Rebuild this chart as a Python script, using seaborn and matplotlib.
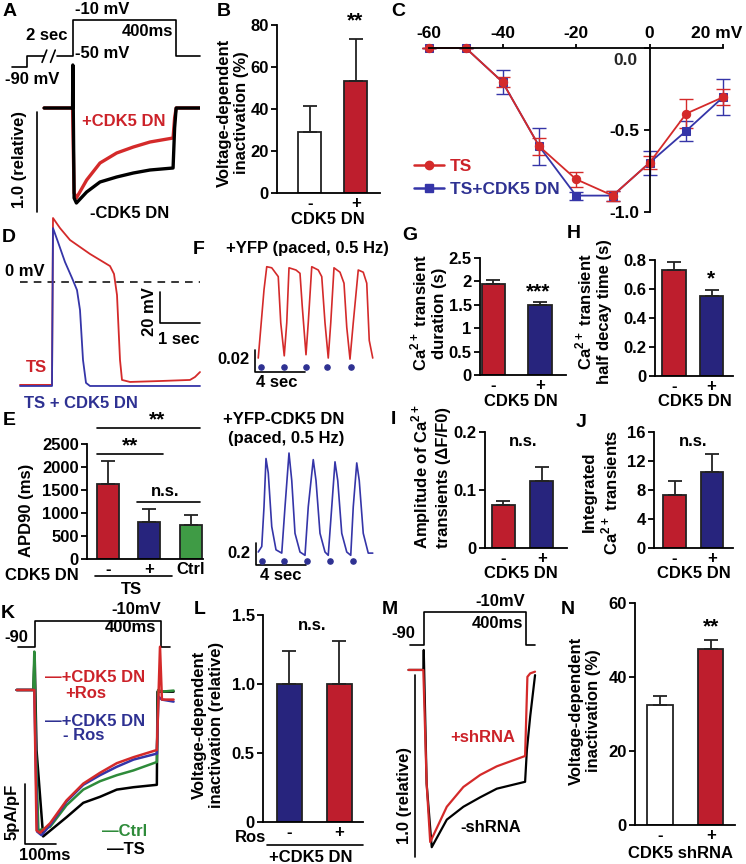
import numpy as np
import pandas as pd
import matplotlib
matplotlib.use("Agg")
import matplotlib.pyplot as plt
from matplotlib.lines import Line2D
import seaborn as sns

# ==================== data ====================
# A: protocol (ms, mV) and normalised Ca current
a_prot1_t = [-2150, -2000, -2000, -1880]
a_prot1_v = [-90, -90, -50, -50]
a_prot2_t = [-60, 0, 0, 400, 400, 500]
a_prot2_v = [-50, -50, -10, -10, -50, -50]
a_dn_t = [-113, -2, 4, 13, 53, 105, 170, 235, 300, 390, 396, 402, 495]
a_dn_v = [0, 0, -0.85, -0.90, -0.72, -0.55, -0.45, -0.39, -0.34, -0.30, -0.10, 0.0, 0.0]
a_ctl_t = [-113, -2, -1, 0, 4, 13, 53, 105, 170, 235, 300, 390, 396, 402, 495]
a_ctl_v = [0, 0, 0.43, 0.2, -0.9, -0.95, -0.84, -0.74, -0.69, -0.65, -0.62, -0.60, -0.2, 0.0, 0.0]

# B
b_cats = ["-", "+"]
b_mean = [29, 53.5]
b_err = [12.5, 20]

# C: I-V relation
c_mv = [-60, -50, -40, -30, -20, -10, 0, 10, 20]
c_ts = [0, 0, -0.207, -0.60, -0.80, -0.90, -0.70, -0.40, -0.30]
c_ts_err = [0, 0, 0.03, 0.05, 0.045, 0.03, 0.04, 0.09, 0.05]
c_dn = [0, 0, -0.207, -0.60, -0.90, -0.90, -0.70, -0.505, -0.30]
c_dn_err = [0, 0, 0.075, 0.115, 0.025, 0.03, 0.075, 0.06, 0.11]

# D: action potentials (ms, mV)
d_ts_t = [0, 800, 825, 1000, 1250, 1750, 2250, 2350, 2425, 2500, 2550, 2750, 3500, 4250, 4375, 4500]
d_ts_v = [-66.4, -66.4, 41.3, 34.8, 27.1, 18.1, 10.3, 5.2, -8.4, -50.3, -63.2, -64.5, -63.9, -63.2, -61.3, -58.1]
d_dn_t = [0, 800, 825, 950, 1125, 1300, 1425, 1500, 1575, 1650, 1750, 4500]
d_dn_v = [-67.1, -67.1, 34.8, 25.8, 12.9, 2.6, -5.2, -18.1, -50.3, -65.1, -67.1, -67.1]

# E: APD90
e_cats = ["-", "+", "Ctrl"]
e_mean = [1630, 800, 740]
e_err = [510, 290, 220]

# F: Ca transients (s, dF/F)
f_yfp_t = [0.26, 0.72, 0.94, 1.34, 1.86, 2.06, 2.34, 2.54, 2.72, 3.28, 3.6, 3.78, 4.08, 4.26, 4.54,
           5.06, 5.34, 5.6, 5.86, 6.06, 6.32, 6.8, 7.12, 7.34, 7.6, 7.86, 8.26, 8.66, 8.94, 9.14, 9.42]
f_yfp_v = [0.0, 0.062, 0.083, 0.082, 0.074, 0.032, 0.002, 0.032, 0.082, 0.080, 0.077, 0.047, 0.003, 0.032, 0.083,
           0.080, 0.074, 0.032, 0.0, 0.032, 0.082, 0.078, 0.068, 0.028, -0.001, 0.032, 0.080, 0.078, 0.068, 0.016, 0.0]
f_yfp_pace = [0.48, 2.32, 4.08, 5.76, 7.68]
f_dn_t = [0.26, 0.54, 0.72, 0.88, 1.06, 1.34, 1.68, 2.14, 2.4, 2.72, 2.94, 3.2, 3.6, 4.0, 4.26, 4.66,
          4.88, 5.2, 5.6, 5.86, 6.14, 6.4, 6.62, 6.94, 7.34, 7.66, 7.86, 8.14, 8.34, 8.66, 9.06, 9.42]
f_dn_v = [0.0, 0.05, 0.41, 0.85, 0.72, 0.23, 0.02, -0.01, 0.41, 0.90, 0.65, 0.17, 0.0, -0.03, 0.41, 0.84,
          0.65, 0.17, 0.0, -0.03, 0.41, 0.82, 0.65, 0.17, 0.0, -0.03, 0.41, 0.81, 0.65, 0.17, -0.01, -0.01]
f_dn_pace = [0.56, 2.32, 4.16, 6.0, 7.84]

# G-J
g_cats = ["-", "+"]
g_mean = [1.95, 1.5]
g_err = [0.07, 0.06]
h_mean = [0.73, 0.55]
h_err = [0.055, 0.04]
i_mean = [0.075, 0.115]
i_err = [0.006, 0.024]
j_mean = [7.3, 10.5]
j_err = [1.9, 2.5]

# K: currents (ms, pA/pF)
k_prot_t = [-55, 0, 0, 400, 400, 428]
k_prot_v = [-90, -90, -10, -10, -90, -90]
k_ros_t = [-58, -2, 5, 16, 48, 100, 153, 206, 259, 312, 386, 396, 402, 439]
k_ros_v = [0, 0, -11.7, -11.9, -11.1, -9.2, -7.8, -6.9, -6.1, -5.6, -5.0, 3.6, -0.8, -0.8]
k_noros_t = [-58, -2, 7, 21, 48, 100, 153, 206, 259, 312, 386, 391, 402, 439]
k_noros_v = [0, 0, -11.8, -12.1, -11.25, -9.3, -7.9, -7.1, -6.4, -5.8, -5.3, -0.55, -0.8, -0.97]
k_ctrl_t = [-58, -5, -2, 3, 11, 48, 100, 153, 206, 259, 312, 386, 390, 402, 439]
k_ctrl_v = [0, 0, 3.2, -5, -11.7, -11.4, -9.6, -8.3, -7.6, -7.1, -6.7, -6.0, 0, -0.14, -0.05]
k_ts_t = [-58, -5, -1, 5, 26, 100, 153, 206, 259, 312, 386, 388, 439]
k_ts_v = [0, 0, 3.05, -5, -12.2, -10.6, -9.4, -8.9, -8.3, -8.1, -7.9, -0.14, -0.14]

# L
l_cats = ["-", "+"]
l_mean = [1.0, 1.0]
l_err = [0.24, 0.31]

# M: normalised currents (ms, relative)
m_prot_t = [-55, 0, 0, 400, 400, 435]
m_prot_v = [-90, -90, -10, -10, -90, -90]
m_sh_t = [-61, -3, 10, 24, 89, 154, 220, 285, 396, 405, 416, 435]
m_sh_v = [0, 0, -0.66, -1.0, -0.795, -0.68, -0.61, -0.56, -0.50, -0.04, -0.02, -0.01]
m_ctl_t = [-61, -3, -1.3, 10, 30, 89, 154, 220, 285, 396, 403, 416, 435]
m_ctl_v = [0, 0, 0.116, -0.66, -1.03, -0.87, -0.795, -0.74, -0.69, -0.65, -0.465, -0.27, -0.03]

# N
n_cats = ["-", "+"]
n_mean = [32.5, 47.5]
n_err = [2.3, 2.5]

# ==================== style ====================
RED = "#BE1E2D"
NAVY = "#27247D"
GREEN = "#3F9B45"
EDGE = "#222222"
LRED = "#D42A2A"
LBLUE = "#3535A8"
TRED = "#CC2229"
TBLUE = "#2E3192"

sns.set_theme(style="ticks")
plt.rcParams["font.family"] = ["Liberation Sans", "DejaVu Sans"]
plt.rcParams["font.weight"] = "bold"
plt.rcParams["axes.unicode_minus"] = False
plt.rcParams["mathtext.fontset"] = "custom"
plt.rcParams["mathtext.rm"] = "Liberation Sans:bold"
plt.rcParams["mathtext.bf"] = "Liberation Sans:bold"

W, H = 746, 864
fig = plt.figure(figsize=(W / 100, H / 100), dpi=100)
fig.patch.set_facecolor("white")
FS = 12


def add_ax(x0, y0, x1, y1):
    ax = fig.add_axes([x0 / W, 1 - y1 / H, (x1 - x0) / W, (y1 - y0) / H])
    ax.set_facecolor("none")
    return ax


def txt(x, y, s, size=FS, color="black", rot=0, ha="center", va="center"):
    fig.text(x / W, 1 - y / H, s, fontsize=size, color=color, rotation=rot,
             ha=ha, va=va, fontweight="bold")


def trace(ax, t, v, color, lw=1.3, **kw):
    sns.lineplot(x=t, y=v, sort=False, estimator=None, color=color, lw=lw, ax=ax, **kw)


def bar_panel(box, cats, means, errs, colors, xlim, ylim, yticks, ylabels, width):
    ax = add_ax(*box)
    df = pd.DataFrame({"group": cats, "value": means})
    sns.barplot(data=df, x="group", y="value", hue="group", order=cats, hue_order=cats,
                palette=colors, width=width, saturation=1, edgecolor=EDGE, linewidth=1.3,
                errorbar=None, legend=False, ax=ax)
    ax.errorbar(np.arange(len(cats)), means, yerr=[np.zeros(len(cats)), errs], fmt="none",
                ecolor=EDGE, elinewidth=1.3, capsize=5, capthick=1.3)
    ax.set_xlim(*xlim)
    ax.set_ylim(*ylim)
    ax.set_yticks(yticks)
    ax.set_yticklabels(ylabels)
    ax.set_xlabel("")
    ax.set_ylabel("")
    sns.despine(ax=ax)
    for s in ("left", "bottom"):
        ax.spines[s].set_linewidth(1.3)
        ax.spines[s].set_color("black")
    ax.tick_params(axis="y", length=4, width=1.3, pad=2, labelsize=FS, colors="black")
    ax.tick_params(axis="x", length=0, pad=2, labelsize=FS, colors="black")
    return ax


def bracket(ax, x0, x1, y):
    ax.plot([x0, x1], [y, y], color="black", lw=1.2, clip_on=False)


def piecewise(src, dst):
    return (lambda v: np.interp(v, src, dst), lambda p: np.interp(p, dst, src))


# ==================== A ====================
ax = add_ax(12, 20, 200, 67)
ax.set_xscale("function", functions=piecewise([-2150, -2000, -1880, -60, 0, 400, 500],
                                              [12, 27, 44, 57, 73, 176, 200]))
ax.set_yscale("function", functions=piecewise([-90, -50, -10], [-67, -56, -20]))
trace(ax, a_prot1_t, a_prot1_v, "black", lw=1.2, clip_on=False)
trace(ax, a_prot2_t, a_prot2_v, "black", lw=1.2, clip_on=False)
ax.set_xlim(-2150, 500)
ax.set_ylim(-90, -10)
for xs in ((0.16, 0.185), (0.205, 0.23)):
    ax.plot(xs, (0.1, 0.36), color="black", lw=1.2, transform=ax.transAxes, clip_on=False)
ax.axis("off")

ax = add_ax(30, 60, 200, 215)
trace(ax, a_dn_t, a_dn_v, LRED, lw=2.4)
trace(ax, a_ctl_t, a_ctl_v, "black", lw=2.4)
ax.plot([-140, -140], [-0.04, -1.04], color="black", lw=1.2)
ax.set_xlim(-168, 495)
ax.set_ylim(-1.07, 0.48)
ax.axis("off")

txt(10, 12, "A", size=14)
txt(102, 9, "-10 mV")
txt(47, 36, "2 sec")
txt(147, 31, "400ms")
txt(102, 53, "-50 mV")
txt(32, 80, "-90 mV")
txt(124, 121, "+CDK5 DN", color=TRED)
txt(130, 214, "-CDK5 DN")
txt(20, 160, "1.0 (relative)", rot=90)

# ==================== B ====================
ax = bar_panel((277, 25, 380, 193), b_cats, b_mean, b_err, ["white", RED],
               (-0.71, 1.53), (0, 80), [0, 20, 40, 60, 80], ["0", "20", "40", "60", "80"], 0.5)
txt(224, 11, "B", size=14)
txt(355, 21, "**", size=15)
txt(233, 113, "Voltage-dependent\ninactivation (%)", rot=90)
txt(328, 220, "CDK5 DN")

# ==================== C ====================
ax = add_ax(429, 48, 723, 212)
ax.errorbar(c_mv, c_dn, yerr=c_dn_err, fmt="none", ecolor=LBLUE, elinewidth=1, capsize=5, clip_on=False)
ax.errorbar(c_mv, c_ts, yerr=c_ts_err, fmt="none", ecolor=LRED, elinewidth=1, capsize=5, clip_on=False)
trace(ax, c_mv, c_dn, LBLUE, lw=1.3, marker="s", markersize=6, markeredgecolor=LBLUE, clip_on=False)
trace(ax, c_mv, c_ts, LRED, lw=1.3, marker="o", markersize=6, markeredgecolor=LRED, clip_on=False)
ax.set_xlim(-60, 20)
ax.set_ylim(-1, 0)
ax.spines["left"].set_position(("data", 0))
ax.spines["bottom"].set_visible(False)
ax.spines["right"].set_visible(False)
for s in ("left", "top"):
    ax.spines[s].set_linewidth(1.3)
    ax.spines[s].set_color("black")
ax.xaxis.tick_top()
ax.set_xticks([-60, -40, -20, 0, 20])
ax.set_xticklabels(["-60", "-40", "-20", "0", ""])
ax.set_yticks([0, -0.5, -1.0])
ax.set_yticklabels(["", "-0.5", "-1.0"])
ax.tick_params(axis="x", length=3, width=1.3, pad=2, labelsize=12.5, colors="black")
ax.tick_params(axis="y", length=4, width=1.3, pad=3, labelsize=12.5, colors="black")
ax.text(-3.2, -0.075, "0.0", ha="right", va="center", fontsize=12.5, fontweight="bold")
handles = [Line2D([], [], color=LRED, marker="o", markersize=6, lw=1.8),
           Line2D([], [], color=LBLUE, marker="s", markersize=6, lw=1.8)]
leg = ax.legend(handles, ["TS", "TS+CDK5 DN"], loc="center left", bbox_to_anchor=(414 / W, 1 - 178 / H),
                bbox_transform=fig.transFigure, frameon=False, fontsize=12.5, handlelength=1.7,
                handletextpad=0.35, labelspacing=0.5, borderpad=0, borderaxespad=0)
for t, c in zip(leg.get_texts(), [TRED, TBLUE]):
    t.set_color(c)
txt(398, 11, "C", size=14)
txt(717, 33, "20 mV", size=12.5)

# ==================== D ====================
ax = add_ax(15, 205, 205, 410)
ax.plot([0, 4500], [0, 0], color="black", lw=1.1, ls=(0, (5, 4)))
trace(ax, d_ts_t, d_ts_v, LRED, lw=1.3)
trace(ax, d_dn_t, d_dn_v, LBLUE, lw=1.3)
ax.plot([3500, 3500, 4500], [-6.5, -26.5, -26.5], color="black", lw=1.2)
ax.set_xlim(-125, 4625)
ax.set_ylim(-82.6, 49.7)
ax.axis("off")
txt(9, 237, "D", size=14)
txt(25, 272, "0 mV")
txt(149, 312, "20 mV", rot=90)
txt(179, 339, "1 sec")
txt(36, 368, "TS", color=TRED)
txt(81, 404, "TS + CDK5 DN", color=TBLUE)

# ==================== E ====================
ax = bar_panel((87, 444, 203, 559), e_cats, e_mean, e_err, [RED, NAVY, GREEN],
               (-0.5, 2.3), (0, 2500), [0, 500, 1000, 1500, 2000, 2500],
               ["0", "500", "1000", "1500", "2000", "2500"], 0.53)
bracket(ax, -0.26, 2.22, 2848)
bracket(ax, -0.26, 1.33, 2283)
bracket(ax, 0.70, 2.22, 1239)
bracket(ax, -0.31, 1.55, -370)
txt(9, 420, "E", size=14)
txt(157, 420, "**", size=15)
txt(130, 446, "**", size=15)
txt(165, 492, "n.s.")
txt(27, 510, "APD90 (ms)", rot=90)
txt(42, 575, "CDK5 DN")
txt(131, 589, "TS")

# ==================== F ====================
ax = add_ax(250, 260, 380, 395)
trace(ax, f_yfp_t, f_yfp_v, LRED, lw=1.2)
ax.scatter(f_yfp_pace, [-0.008] * len(f_yfp_pace), s=14, color=TBLUE, zorder=3)
ax.plot([0, 0, 4], [0.0073, -0.0127, -0.0127], color="black", lw=1.2)
ax.set_xlim(-0.4, 10)
ax.set_ylim(-0.0336, 0.0891)
ax.axis("off")

ax = add_ax(250, 445, 380, 585)
trace(ax, f_dn_t, f_dn_v, LBLUE, lw=1.2)
ax.scatter(f_dn_pace, [-0.08] * len(f_dn_pace), s=14, color=TBLUE, zorder=3)
ax.plot([0.08, 0.08, 4.08], [0.08, -0.12, -0.12], color="black", lw=1.2)
ax.set_xlim(-0.4, 10)
ax.set_ylim(-0.30, 0.973)
ax.axis("off")

txt(199, 250, "F", size=14)
txt(307, 249, "+YFP (paced, 0.5 Hz)")
txt(250, 359, "0.02", ha="right")
txt(277, 383, "4 sec")
txt(284, 419, "+YFP-CDK5 DN")
txt(286, 439, "(paced, 0.5 Hz)")
txt(250, 554, "0.2", ha="right")
txt(281, 576, "4 sec")

# ==================== G / H ====================
ax = bar_panel((480, 258, 566, 375), g_cats, g_mean, g_err, [RED, NAVY],
               (-0.285, 1.56), (0, 2.5), [0, 0.5, 1, 1.5, 2, 2.5], ["0", "0.5", "1", "1.5", "2", "2.5"], 0.5)
txt(410, 236, "G", size=14)
txt(538, 292, "***", size=15)
txt(428, 313, "Ca$^{\\mathbf{2+}}$ transient\nduration (s)", rot=90)
txt(521, 401, "CDK5 DN")

ax = bar_panel((655, 260, 733, 376), g_cats, h_mean, h_err, [RED, NAVY],
               (-0.5, 1.57), (0, 0.8), [0, 0.2, 0.4, 0.6, 0.8], ["0", "0.2", "0.4", "0.6", "0.8"], 0.62)
txt(574, 233, "H", size=14)
txt(711, 279, "*", size=15)
txt(593, 312, "Ca$^{\\mathbf{2+}}$ transient\nhalf decay time (s)", rot=90)
txt(695, 401, "CDK5 DN")

# ==================== I / J ====================
ax = bar_panel((485, 432, 567, 548), g_cats, i_mean, i_err, [RED, NAVY],
               (-0.48, 1.66), (0, 0.2), [0, 0.1, 0.2], ["0", "0.1", "0.2"], 0.6)
txt(393, 419, "I", size=14)
txt(523, 442, "n.s.")
txt(430, 477, "Amplitude of Ca$^{\\mathbf{2+}}$\ntransients (ΔF/F0)", rot=90)
txt(521, 573, "CDK5 DN")

ax = bar_panel((654, 432, 733, 548), g_cats, j_mean, j_err, [RED, NAVY],
               (-0.55, 1.56), (0, 16), [0, 4, 8, 12, 16], ["0", "4", "8", "12", "16"], 0.6)
txt(581, 423, "J", size=14)
txt(693, 442, "n.s.")
txt(601, 492, "Integrated\nCa$^{\\mathbf{2+}}$ transients", rot=90)
txt(694, 573, "CDK5 DN")

# ==================== K ====================
ax = add_ax(10, 612, 178, 650)
trace(ax, k_prot_t, k_prot_v, "black", lw=1.2, clip_on=False)
ax.set_xlim(-79, 453)
ax.set_ylim(-99.3, 17.7)
ax.axis("off")

ax = add_ax(10, 650, 178, 850)
trace(ax, k_ts_t, k_ts_v, "black", lw=1.8, clip_on=False)
trace(ax, k_ctrl_t, k_ctrl_v, "#2E8B3A", lw=1.8, clip_on=False)
trace(ax, k_noros_t, k_noros_v, LBLUE, lw=1.8, clip_on=False)
trace(ax, k_ros_t, k_ros_v, LRED, lw=1.8, clip_on=False)
ax.plot([-32, -32, 68], [-7.8, -12.8, -12.8], color="black", lw=1.2)
ax.set_xlim(-79, 453)
ax.set_ylim(-13.33, 3.33)
ax.axis("off")

txt(8, 614, "K", size=14)
txt(16, 638, "-90")
txt(136, 610, "-10mV")
txt(130, 628, "400ms")
txt(45, 678, "\u2014+CDK5 DN", color=TRED, ha="left")
txt(65, 694, "+Ros", color=TRED, ha="left")
txt(45, 721, "\u2014+CDK5 DN", color=TBLUE, ha="left")
txt(63, 736, "- Ros", color=TBLUE, ha="left")
txt(102, 831, "\u2014Ctrl", color="#2E8B3A", ha="left")
txt(107, 849, "\u2014TS", ha="left")
txt(12, 812, "5pA/pF", rot=90)
txt(45, 855, "100ms")

# ==================== L ====================
ax = bar_panel((263, 615, 363, 822), l_cats, l_mean, l_err, [NAVY, RED],
               (-0.52, 1.48), (0, 1.5), [0, 0.5, 1.0, 1.5], ["0", "0.5", "1.0", "1.5"], 0.5)
bracket(ax, -0.44, 1.48, -0.167)
txt(200, 609, "L", size=14)
txt(312, 625, "n.s.")
txt(208, 725, "Voltage-dependent\ninactivation (relative)", rot=90)
txt(250, 838, "Ros")
txt(311, 857, "+CDK5 DN")

# ==================== M ====================
ax = add_ax(395, 600, 545, 650)
trace(ax, m_prot_t, m_prot_v, "black", lw=1.2, clip_on=False)
ax.set_xlim(-114, 474)
ax.set_ylim(-102, 19)
ax.axis("off")

ax = add_ax(395, 640, 545, 862)
trace(ax, m_ctl_t, m_ctl_v, "black", lw=1.6)
trace(ax, m_sh_t, m_sh_v, LRED, lw=1.6)
ax.plot([-35, -35], [-0.03, -1.085], color="black", lw=1.2)
ax.set_xlim(-114, 474)
ax.set_ylim(-1.116, 0.174)
ax.axis("off")

txt(390, 609, "M", size=14)
txt(403, 633, "-90")
txt(500, 601, "-10mV")
txt(497, 624, "400ms")
txt(404, 795, "1.0 (relative)", rot=90)
txt(483, 738, "+shRNA", color=TRED)
txt(491, 828, "-shRNA")

# ==================== N ====================
ax = bar_panel((635, 603, 735, 825), n_cats, n_mean, n_err, ["white", RED],
               (-0.49, 1.48), (0, 60), [0, 20, 40, 60], ["0", "20", "40", "60"], 0.5)
txt(568, 609, "N", size=14)
txt(711, 627, "**", size=15)
txt(585, 711, "Voltage-dependent\ninactivation (%)", rot=90)
txt(680, 854, "CDK5 shRNA")

fig.savefig("out.png", dpi=100)
